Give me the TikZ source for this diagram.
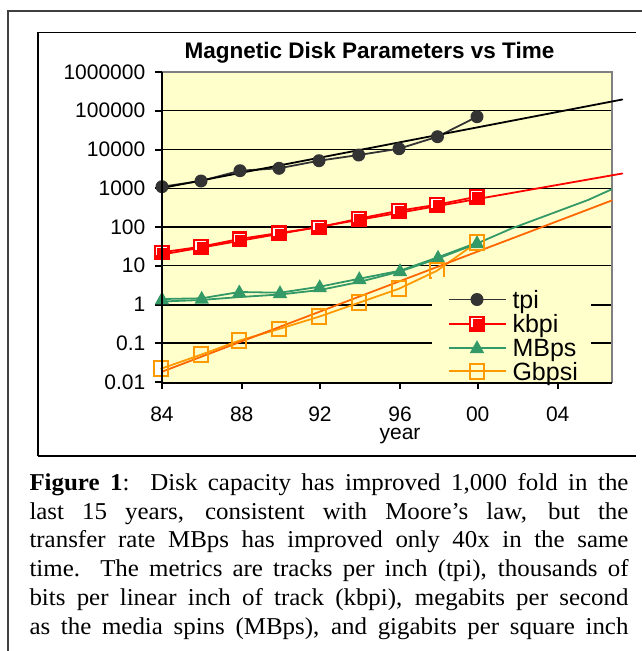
\documentclass[tikz,border=0pt]{standalone}
\usepackage{fontspec}
\setmainfont{Liberation Serif}
\newfontfamily\capfont[FakeStretch=1.03]{Liberation Serif}
\newfontfamily\arial{Liberation Sans}
\definecolor{plotbg}{HTML}{FFFFCC}
\definecolor{tpic}{HTML}{333333}
\definecolor{kbc}{HTML}{FF0000}
\definecolor{mbc}{HTML}{339966}
\definecolor{gbc}{HTML}{FF9900}
\definecolor{gbfit}{HTML}{FF6600}
\definecolor{bordergray}{HTML}{808080}
\tikzset{
  axlab/.style={font=\arial\fontsize{21}{21}\selectfont, inner sep=0pt},
  leglab/.style={font=\arial\fontsize{25}{25}\selectfont, inner sep=0pt, anchor=base west},
  series/.style={line width=1.8pt, line join=round, line cap=round},
  tpimk/.pic={\fill[tpic] (0,0) circle (6.5pt);},
  kbmk/.pic={\fill[kbc] (-7.8,-7.8) rectangle (7.8,7.8);
             \draw[white, line width=1.1pt] (-5,3) -- (-5,-4.8) -- (5.2,-4.8);},
  mbmk/.pic={\fill[mbc] (0,-7.5) -- (7.2,5.3) -- (-7.2,5.3) -- cycle;},
  gbmk/.pic={\draw[gbc, line width=2pt] (-7.4,-7.4) rectangle (7.4,7.4);}
}
\begin{document}
\begin{tikzpicture}[x=1pt,y=-1pt]
\useasboundingbox (0,0) rectangle (642,651);
% outer frame (right and bottom edges cut off)
\draw[black!75, line width=2pt] (7.5,651) -- (7.5,10.5) -- (642,10.5);
% chart box
\draw[black, line width=1.2pt] (635.7,32.5) -- (38,32.5) -- (38,456.3);
\draw[black, line width=2pt] (38,456.3) -- (635.7,456.3);
% title
\node[anchor=base, inner sep=0pt, font=\arial\bfseries\fontsize{22.5}{22.5}\selectfont] (title) at (369.5,58.3) {Magnetic Disk Parameters vs Time};
% plot area
\fill[plotbg] (162,72) rectangle (611.7,382);
\foreach \k in {3,4,5,6,7} {
  \draw[black, line width=1.2pt] (162,382-\k*38.75) -- (611.7,382-\k*38.75);
}
\foreach \k in {1,2} {
  \draw[black, line width=2pt] (162,382-\k*38.75) -- (611.7,382-\k*38.75);
}
\draw[bordergray, line width=2pt] (162,72) -- (611.7,72) -- (611.7,383);
% y ticks and labels
\foreach \k/\lab in {0/0.01,1/0.1,2/1,3/10,4/100,5/1000,6/10000,7/100000,8/1000000} {
  \draw[black, line width=2pt] (155,382-\k*38.75) -- (162,382-\k*38.75);
  \node[axlab, anchor=east] (ylab\k) at (145.5,382-\k*38.75) {\lab};
}
% x ticks and labels
\foreach \x/\lab [count=\i] in {162/84,241.7/88,320/92,400/96,477.7/00,557.7/04} {
  \draw[black, line width=2pt] (\x,382) -- (\x,389);
  \node[axlab, anchor=base] (xlab\i) at (\x,421.5) {\lab};
}
\node[axlab, anchor=base] (xtitle) at (400,439.3) {year};
% data lines
\draw[series, tpic] (162,186.7) -- (201,181) -- (240,170.7) -- (279,168.3) -- (319,160.7) -- (358.7,155) -- (399,148.7) -- (437.5,136.7) -- (477,116.7);
\draw[series, kbc] (161.7,252.3) -- (201,246.7) -- (239.3,239) -- (279,233) -- (319,227.3) -- (358.7,218.7) -- (399,210.7) -- (437,204.7) -- (476.7,196.7);
\draw[series, mbc] (162,299) -- (201.7,298.3) -- (239.3,292) -- (280,292.7) -- (319.7,286.7) -- (359.3,278.7) -- (400,270.7) -- (438,257.3) -- (477,242.7);
\draw[series, gbc] (161,368.7) -- (201,354.7) -- (239,340.7) -- (279,329) -- (319,316.7) -- (359,302.7) -- (399,288.7) -- (437,270.7) -- (477,242.3);
% trend lines
\draw[series, black] (162,188) -- (622.3,99.5);
\draw[series, kbc] (162,254.5) -- (622.3,173.5);
\draw[series, mbc] (162,301.5) -- (201,300) -- (240,297) -- (280,294.5) -- (320,290) -- (359,282) -- (400,271.5) -- (438,258.5) -- (477,243.5) -- (512,228.3) -- (588,200) -- (611.7,189.3);
\draw[series, gbfit] (162,371.7) -- (611.7,200.5);
% markers
\foreach \p in {(162,186.7),(201,181),(240,170.7),(279,168.3),(319,160.7),(358.7,155),(399,148.7),(437.5,136.7),(477,116.7)} \pic at \p {tpimk};
\foreach \p in {(161.7,252.3),(201,246.7),(239.3,239),(279,233),(319,227.3),(358.7,218.7),(399,210.7),(437,204.7),(476.7,196.7)} \pic at \p {kbmk};
\foreach \p in {(162,299),(201.7,298.3),(239.3,292),(280,292.7),(319.7,286.7),(359.3,278.7),(400,270.7),(438,257.3),(477,242.7)} \pic at \p {mbmk};
\foreach \p in {(161,368.7),(201,354.7),(239,340.7),(279,329),(319,316.7),(359,302.7),(399,288.7),(437,270.7),(477,242.3)} \pic at \p {gbmk};
% legend
\fill[plotbg] (432,277) rectangle (590.5,381);
\draw[series, tpic, line cap=butt] (449,299.5) -- (506,299.5);
\pic at (477,299.5) {tpimk};
\node[leglab] (legtpi) at (512.3,308.2) {tpi};
\draw[series, kbc, line cap=butt] (449,323.7) -- (506,323.7);
\pic at (477,323.7) {kbmk};
\node[leglab] (legkb) at (512.3,332.4) {kbpi};
\draw[series, mbc, line cap=butt] (449,347.7) -- (506,347.7);
\pic at (477,347.7) {mbmk};
\node[leglab] (legmb) at (512.3,356.4) {MBps};
\draw[series, gbc, line cap=butt] (449,371.3) -- (506,371.3);
\pic at (477,371.3) {gbmk};
\node[leglab] (leggb) at (512.3,380) {Gbpsi};
% axes
\draw[black, line width=2pt] (162,72) -- (162,383) -- (611.7,383);
% caption
\begin{scope}[every node/.style={anchor=base west, inner sep=0pt, font=\capfont\fontsize{24.2}{24.2}\selectfont}]
\node (cap1) at (29.3,490) {\makebox[599pt][s]{\textbf{Figure 1}:\ \ Disk capacity has improved 1,000 fold in the}};
\node (cap2) at (29.3,519) {\makebox[599pt][s]{last 15 years, consistent with Moore’s law, but the}};
\node (cap3) at (29.3,547.8) {\makebox[599pt][s]{transfer rate MBps has improved only 40x in the same}};
\node (cap4) at (29.3,576.7) {\makebox[599pt][s]{time.\ \ The metrics are tracks per inch (tpi), thousands of}};
\node (cap5) at (29.3,605.3) {\makebox[599pt][s]{bits per linear inch of track (kbpi), megabits per second}};
\node (cap6) at (29.3,634.3) {\makebox[599pt][s]{as the media spins (MBps), and gigabits per square inch}};
\end{scope}
\end{tikzpicture}
\end{document}
